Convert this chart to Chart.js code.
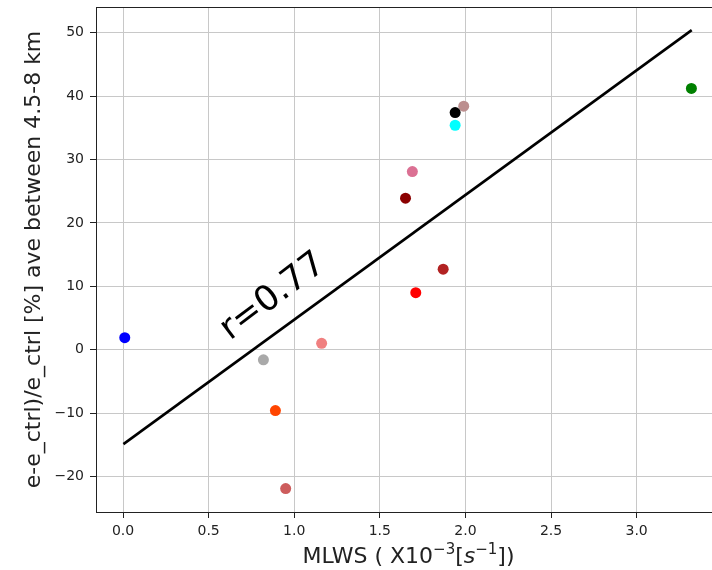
<!DOCTYPE html>
<html>
<head>
<meta charset="utf-8">
<script src="https://cdn.jsdelivr.net/npm/chart.js@4.4.1/dist/chart.umd.min.js"></script>
<style>
  html, body { margin: 0; padding: 0; background: #fff; overflow: hidden; }
</style>
</head>
<body>
<canvas id="chart" width="730" height="570"></canvas>
<script>
// MLWS values (x) and percentage change (y) for each run
const mlws = [0.01, 0.82, 0.89, 0.95, 1.16, 1.71, 1.87, 1.65, 1.69, 1.94, 1.99, 1.94, 3.32];
const change = [1.9, -1.6, -9.6, -21.9, 1.0, 9.0, 12.7, 23.9, 28.1, 35.4, 38.4, 37.4, 41.2];
const pointColors = ['#0000ff', '#a9a9a9', '#ff4500', '#cd5c5c', '#f08080', '#ff0000',
  '#b22222', '#8b0000', '#db7093', '#00ffff', '#bc8f8f', '#000000', '#008000'];

// regression line end points
const fitX = [0.002, 3.322];
const fitY = [-14.9, 50.4];

const rLabel = 'r=0.77';
const yTitle = 'e-e_ctrl)/e_ctrl [%] ave between 4.5-8 km';
// x title pieces: [text, superscript?, italic?]
const xTitle = [['MLWS ( X10', false, false], ['\u22123', true, false], ['[', false, false],
  ['s', false, true], ['\u22121', true, false], ['])', false, false]];

const FONT = "'DejaVu Sans', sans-serif";

const scatterPts = mlws.map((x, i) => ({ x: x, y: change[i] }));
const fitPts = fitX.map((x, i) => ({ x: x, y: fitY[i] }));

function pieceFont(sup, ital) {
  const size = sup ? 15 : 22;
  return (ital ? 'italic ' : '') + size + 'px ' + FONT;
}

// frame, rotated r label, x axis title with superscripts
const extras = {
  id: 'extras',
  afterDraw(chart) {
    const ctx = chart.ctx;
    const a = chart.chartArea;
    ctx.save();
    ctx.strokeStyle = '#222';
    ctx.lineWidth = 1;
    ctx.strokeRect(a.left + 0.5, a.top + 0.5, a.right - a.left, a.bottom - a.top);

    // x title
    ctx.fillStyle = '#222';
    ctx.textBaseline = 'alphabetic';
    ctx.textAlign = 'left';
    let total = 0;
    xTitle.forEach(p => { ctx.font = pieceFont(p[1], p[2]); total += ctx.measureText(p[0]).width; });
    let cx = (a.left + a.right) / 2 - total / 2;
    const base = 563;
    xTitle.forEach(p => {
      ctx.font = pieceFont(p[1], p[2]);
      ctx.fillText(p[0], cx, p[1] ? base - 9 : base);
      cx += ctx.measureText(p[0]).width;
    });

    // r label
    const px = chart.scales.x.getPixelForValue(0.625);
    const py = chart.scales.y.getPixelForValue(1.4);
    ctx.translate(px, py);
    ctx.rotate(-37 * Math.PI / 180);
    ctx.fillStyle = '#000';
    ctx.font = '35px ' + FONT;
    ctx.fillText(rLabel, 0, 0);
    ctx.restore();
  }
};

new Chart(document.getElementById('chart'), {
  type: 'scatter',
  data: {
    datasets: [{
      type: 'line',
      data: fitPts,
      borderColor: '#000',
      borderWidth: 2.6,
      pointRadius: 0,
      fill: false
    }, {
      data: scatterPts,
      pointBackgroundColor: pointColors,
      pointBorderWidth: 0,
      pointRadius: 5.5
    }]
  },
  options: {
    responsive: false,
    animation: false,
    devicePixelRatio: 1,
    layout: { padding: { top: 7, right: 9, left: 0, bottom: 0 } },
    plugins: { legend: { display: false }, tooltip: { enabled: false } },
    scales: {
      x: {
        type: 'linear',
        min: -0.158,
        max: 3.493,
        afterFit(scale) { scale.height = 58; scale.paddingLeft = 0; scale.paddingRight = 0; },
        ticks: {
          stepSize: 0.5,
          includeBounds: false,
          color: '#222',
          padding: 5,
          font: { family: FONT, size: 14 },
          callback: v => v.toFixed(1)
        },
        grid: { color: '#c8c8c8', lineWidth: 1, tickLength: 6, tickColor: '#222' },
        border: { color: '#222', width: 1 }
      },
      y: {
        min: -25.6,
        max: 54.05,
        afterFit(scale) { scale.width = 96; scale.paddingTop = 0; scale.paddingBottom = 0; },
        ticks: {
          stepSize: 10,
          includeBounds: false,
          color: '#222',
          padding: 6,
          font: { family: FONT, size: 14 },
          callback: v => (v < 0 ? '\u2212' + Math.abs(v) : String(v))
        },
        grid: { color: '#c8c8c8', lineWidth: 1, tickLength: 6, tickColor: '#222' },
        border: { color: '#222', width: 1 },
        title: {
          display: true,
          text: yTitle,
          color: '#222',
          font: { family: FONT, size: 22 },
          padding: { top: 21, bottom: 0 }
        }
      }
    }
  },
  plugins: [extras]
});
</script>
</body>
</html>
